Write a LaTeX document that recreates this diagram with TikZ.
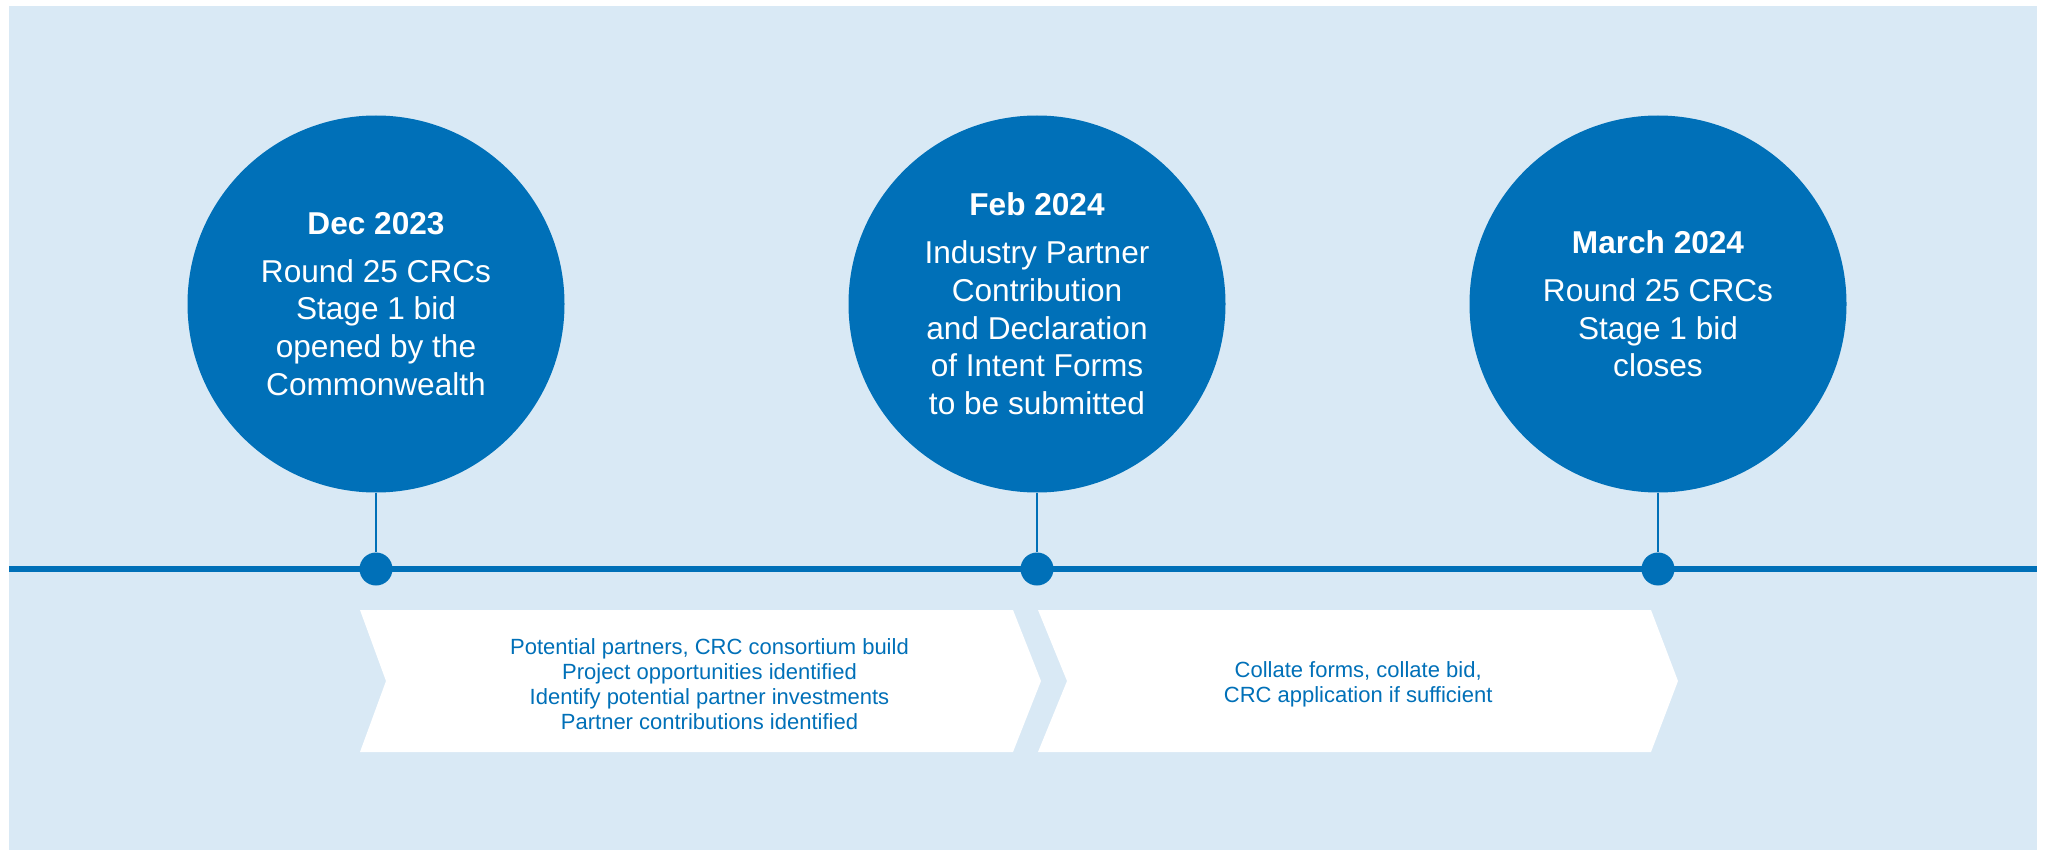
\documentclass[tikz,border=0pt]{standalone}
\usepackage{fontspec}
\setmainfont{Liberation Sans}
\usetikzlibrary{calc}
\usetikzlibrary{positioning}

\definecolor{crcblue}{HTML}{0070B8}
\definecolor{crcpale}{HTML}{D9E9F5}

\tikzset{
  milestone/.style={circle, fill=crcblue, text=white, minimum size=188.5pt,
    inner sep=0pt, align=center, font=\fontsize{15.8}{18.9}\selectfont},
  tick/.style={circle, fill=crcblue, minimum size=16.5pt, inner sep=0pt},
  stem/.style={crcblue, line width=1pt},
  phase/.style={fill=white},
  phasetext/.style={text=crcblue, align=center, font=\fontsize{11}{12.4}\selectfont}
}

\begin{document}
\begin{tikzpicture}[x=0.5pt, y=-0.5pt]
  \useasboundingbox (0,0) rectangle (2045,850);
  \fill[crcpale] (9,6) rectangle (2037,850);

  % Timeline
  \coordinate (start) at (9,569);
  \coordinate (end) at (2037,569);
  \draw[crcblue, line width=3pt] (start) -- (end);

  % Milestones
  \node[milestone] (dec) at (376,304) {{\bfseries Dec 2023}\\[5pt]
    Round 25 CRCs\\ Stage 1 bid\\ opened by the\\ Commonwealth};
  \node[milestone] (feb) at (1037,304) {{\bfseries Feb 2024}\\[5pt]
    Industry Partner\\ Contribution\\ and Declaration\\ of Intent Forms\\ to be submitted};
  \node[milestone] (mar) at (1658,304) {{\bfseries March 2024}\\[5pt]
    Round 25 CRCs\\ Stage 1 bid\\ closes};

  % Ticks on the timeline
  \node[tick] (decdot) at (dec |- start) {};
  \node[tick] (febdot) at (feb |- start) {};
  \node[tick] (mardot) at (mar |- start) {};

  \draw[stem] (dec.south) -- (decdot);
  \draw[stem] (feb.south) -- (febdot);
  \draw[stem] (mar.south) -- (mardot);

  % Phases
  \coordinate (p1ul) at (360,610);
  \coordinate (p1ur) at (1013,610);
  \coordinate (p1tip) at (1041,681);
  \coordinate (p1lr) at (1013,752);
  \coordinate (p1ll) at (360,752);
  \coordinate (p1notch) at (386,681);
  \fill[phase] (p1ul) -- (p1ur) -- (p1tip) -- (p1lr) -- (p1ll) -- (p1notch) -- cycle;

  \coordinate (p2ul) at (1038,610);
  \coordinate (p2ur) at (1651,610);
  \coordinate (p2tip) at (1678,681);
  \coordinate (p2lr) at (1651,752);
  \coordinate (p2ll) at (1038,752);
  \coordinate (p2notch) at (1067,681);
  \fill[phase] (p2ul) -- (p2ur) -- (p2tip) -- (p2lr) -- (p2ll) -- (p2notch) -- cycle;

  \node[phasetext] (build) at ($(p1notch)!0.5!(p1tip)+(-4,3)$) {Potential partners, CRC consortium build\\
    Project opportunities identified\\ Identify potential partner investments\\
    Partner contributions identified};
  \node[phasetext] (collate) at ($(p2notch)!0.47!(p2tip)+(4,3)$) {Collate forms, collate bid,\\
    CRC application if sufficient};
\end{tikzpicture}
\end{document}
